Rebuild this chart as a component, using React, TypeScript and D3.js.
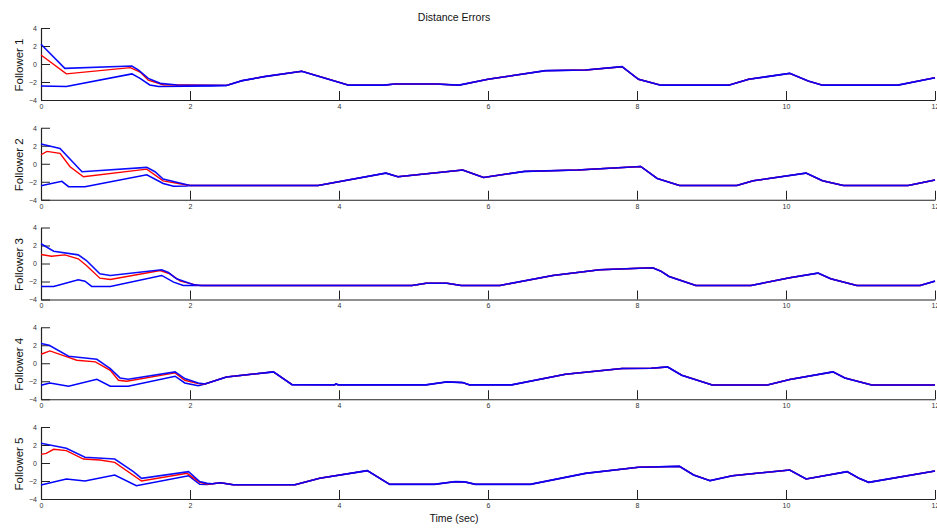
import * as d3 from 'd3';
import React, { useEffect, useRef } from 'react';

type Pt = [number, number];

// tick values and labels
const xTicks = [0, 2, 4, 6, 8, 10, 12];
const yTicks = [-4, -2, 0, 2, 4];
const followerLabels = ['Follower 1', 'Follower 2', 'Follower 3', 'Follower 4', 'Follower 5'];

// Follower 1 - initial transient (upper bound, error, lower bound) + shared tail
const f1Upper: Pt[] = [[0, 2.2], [0.32, -0.48], [1.22, -0.22], [1.31, -0.67], [1.44, -1.6], [1.6, -2.15], [1.83, -2.33]];
const f1Mid: Pt[] = [[0, 1.0], [0.34, -1.1], [1.2, -0.4], [1.33, -0.9], [1.44, -1.8], [1.64, -2.3]];
const f1Lower: Pt[] = [[0, -2.44], [0.34, -2.5], [1.22, -1.1], [1.33, -1.6], [1.46, -2.33], [1.58, -2.5], [2.3, -2.45]];
const f1Tail: Pt[] = [[2.49, -2.38], [2.7, -1.85], [3.0, -1.4], [3.5, -0.8], [4.13, -2.35], [4.6, -2.35], [4.75, -2.22], [5.3, -2.22], [5.61, -2.35], [6.0, -1.7], [6.77, -0.74], [7.31, -0.67], [7.8, -0.3], [8.02, -1.7], [8.32, -2.35], [9.23, -2.35], [9.5, -1.7], [10.05, -1.04], [10.3, -1.9], [10.49, -2.35], [11.5, -2.35], [12, -1.52]];

// Follower 2
const f2Upper: Pt[] = [[0, 2.19], [0.255, 1.7], [0.55, -0.89], [1.42, -0.4], [1.53, -0.89], [1.64, -1.7], [1.96, -2.33]];
const f2Mid: Pt[] = [[0, 1.0], [0.08, 1.37], [0.255, 1.15], [0.39, -0.33], [0.57, -1.44], [1.42, -0.6], [1.64, -1.9], [1.96, -2.36]];
const f2Lower: Pt[] = [[0, -2.44], [0.28, -1.96], [0.37, -2.55], [0.59, -2.55], [1.42, -1.22], [1.64, -2.19], [1.78, -2.5], [1.95, -2.48]];
const f2Tail: Pt[] = [[2.0, -2.42], [3.72, -2.42], [4.63, -1.04], [4.79, -1.44], [5.66, -0.7], [5.94, -1.52], [6.49, -0.85], [7.2, -0.7], [8.05, -0.3], [8.27, -1.63], [8.57, -2.42], [9.34, -2.42], [9.56, -1.89], [10.27, -1.04], [10.49, -1.89], [10.77, -2.42], [11.64, -2.42], [12, -1.81]];

// Follower 3
const f3Upper: Pt[] = [[0, 2.19], [0.17, 1.37], [0.5, 0.96], [0.61, 0.33], [0.79, -1.15], [0.93, -1.33], [1.62, -0.7], [1.71, -1.0], [1.82, -1.7], [2.04, -2.33]];
const f3Mid: Pt[] = [[0, 1.0], [0.14, 0.81], [0.32, 0.96], [0.5, 0.52], [0.61, -0.22], [0.79, -1.63], [0.93, -1.78], [1.6, -0.78], [1.73, -1.15], [1.87, -1.96], [2.09, -2.4]];
const f3Lower: Pt[] = [[0, -2.55], [0.17, -2.55], [0.5, -1.81], [0.59, -1.96], [0.68, -2.55], [0.93, -2.55], [1.62, -1.33], [1.78, -2.07], [1.91, -2.44]];
const f3Tail: Pt[] = [[2.15, -2.44], [4.98, -2.44], [5.17, -2.19], [5.45, -2.19], [5.64, -2.44], [6.16, -2.44], [6.87, -1.33], [7.5, -0.7], [8.21, -0.48], [8.32, -0.85], [8.43, -1.44], [8.79, -2.44], [9.53, -2.44], [10.05, -1.59], [10.43, -1.07], [10.6, -1.7], [10.95, -2.44], [11.8, -2.44], [12, -1.96]];

// Follower 4
const f4Upper: Pt[] = [[0, 2.19], [0.11, 2.0], [0.37, 0.78], [0.75, 0.44], [0.93, -0.59], [1.06, -1.63], [1.17, -1.78], [1.8, -0.96], [1.93, -1.7], [2.11, -2.19]];
const f4Mid: Pt[] = [[0, 1.0], [0.12, 1.37], [0.35, 0.7], [0.48, 0.33], [0.73, 0.15], [0.93, -0.78], [1.04, -1.89], [1.15, -2.0], [1.8, -1.07], [1.93, -1.89], [2.11, -2.26]];
const f4Lower: Pt[] = [[0, -2.44], [0.12, -2.19], [0.37, -2.55], [0.75, -1.78], [0.93, -2.55], [1.17, -2.55], [1.8, -1.44], [1.93, -2.19], [2.11, -2.5]];
const f4Tail: Pt[] = [[2.2, -2.3], [2.49, -1.52], [3.12, -0.96], [3.37, -2.38], [3.94, -2.4], [3.96, -2.3], [3.99, -2.4], [5.17, -2.4], [5.45, -2.07], [5.66, -2.15], [5.75, -2.4], [6.32, -2.4], [7.04, -1.22], [7.8, -0.59], [8.19, -0.55], [8.41, -0.41], [8.6, -1.33], [9.01, -2.41], [9.75, -2.41], [10.05, -1.81], [10.63, -0.96], [10.79, -1.63], [11.15, -2.41], [12, -2.41]];

// Follower 5
const f5Upper: Pt[] = [[0, 2.19], [0.34, 1.63], [0.59, 0.63], [0.99, 0.44], [1.24, -0.96], [1.35, -1.7], [1.98, -0.96], [2.13, -2.07], [2.23, -2.26]];
const f5Mid: Pt[] = [[0, 0.96], [0.07, 1.07], [0.17, 1.52], [0.34, 1.37], [0.57, 0.44], [0.79, 0.33], [0.99, 0.07], [1.35, -2.0], [1.96, -1.15], [2.13, -2.15], [2.23, -2.33]];
const f5Lower: Pt[] = [[0, -2.44], [0.34, -1.78], [0.59, -2.0], [0.99, -1.33], [1.28, -2.52], [1.98, -1.41], [2.13, -2.37], [2.23, -2.4]];
const f5Tail: Pt[] = [[2.3, -2.3], [2.41, -2.2], [2.58, -2.42], [3.41, -2.42], [3.74, -1.7], [4.38, -0.85], [4.68, -2.37], [5.28, -2.37], [5.56, -2.07], [5.69, -2.1], [5.83, -2.37], [6.57, -2.37], [7.31, -1.15], [8.02, -0.48], [8.57, -0.37], [8.76, -1.33], [8.98, -1.96], [9.28, -1.41], [10.05, -0.78], [10.27, -1.78], [10.82, -0.96], [10.98, -1.7], [11.11, -2.15], [12, -0.89]];

const followers = [
    { upper: f1Upper, mid: f1Mid, lower: f1Lower, tail: f1Tail },
    { upper: f2Upper, mid: f2Mid, lower: f2Lower, tail: f2Tail },
    { upper: f3Upper, mid: f3Mid, lower: f3Lower, tail: f3Tail },
    { upper: f4Upper, mid: f4Mid, lower: f4Lower, tail: f4Tail },
    { upper: f5Upper, mid: f5Mid, lower: f5Lower, tail: f5Tail },
];

function App() {
    const ref = useRef<SVGSVGElement>(null);

    useEffect(() => {
        document.body.style.margin = '0';
        const width = 937;
        const height = 528;
        const left = 41;
        const right = 935;
        const firstTop = 28;
        const step = 99.75;
        const panelH = 72;
        const font = '"Liberation Sans", Arial, Helvetica, sans-serif';

        const svg = d3.select(ref.current)
            .attr('width', width)
            .attr('height', height)
            .style('display', 'block')
            .style('background', 'white');
        svg.selectAll('*').remove();

        const x = d3.scaleLinear().domain([0, 12]).range([left, right]);

        followers.forEach((f, i) => {
            const top = firstTop + i * step;
            const y = d3.scaleLinear().domain([-4, 4]).range([top + panelH, top]);
            const line = d3.line<Pt>().x((d) => x(d[0])).y((d) => y(d[1]));

            const g = svg.append('g');

            // x axis (ticks pointing inward)
            const xa = g.append('g')
                .attr('transform', `translate(0,${top + panelH})`)
                .call(d3.axisBottom(x).tickValues(xTicks).tickSizeInner(-9).tickSizeOuter(0).tickPadding(4));
            // y axis
            const ya = g.append('g')
                .attr('transform', `translate(${left},0)`)
                .call(d3.axisLeft(y).tickValues(yTicks).tickSizeInner(-9).tickSizeOuter(0).tickPadding(4));

            [xa, ya].forEach((a) => {
                a.selectAll('path').attr('stroke', '#222').attr('stroke-width', 1.2);
                a.selectAll('line').attr('stroke', '#222').attr('stroke-width', 1);
                a.selectAll('text').attr('fill', '#333').style('font-size', '7px').style('font-family', font);
            });

            const lowerPts = f.lower.concat(f.tail);
            const midPts = f.mid.concat(f.tail);
            const upperPts = f.upper.concat(f.tail);

            g.append('path').datum(lowerPts).attr('fill', 'none').attr('stroke', '#0000ff')
                .attr('stroke-width', 1.5).attr('d', line);
            g.append('path').datum(midPts).attr('fill', 'none').attr('stroke', '#ff0000')
                .attr('stroke-width', 1.4).attr('d', line);
            g.append('path').datum(upperPts).attr('fill', 'none').attr('stroke', '#0000ff')
                .attr('stroke-opacity', 0.95).attr('stroke-width', 1.6).attr('d', line);

            // follower label
            g.append('text')
                .attr('transform', `translate(19,${top + panelH / 2 + 1}) rotate(-90)`)
                .attr('text-anchor', 'middle')
                .attr('dominant-baseline', 'central')
                .style('font-family', font)
                .style('font-size', '11.5px')
                .attr('fill', '#111')
                .text(followerLabels[i]);
        });

        svg.append('text')
            .attr('x', 454).attr('y', 21)
            .attr('text-anchor', 'middle')
            .style('font-family', font)
            .style('font-size', '10.5px')
            .attr('fill', '#111')
            .text('Distance Errors');

        svg.append('text')
            .attr('x', 454).attr('y', 522)
            .attr('text-anchor', 'middle')
            .style('font-family', font)
            .style('font-size', '10.5px')
            .attr('fill', '#111')
            .text('Time (sec)');
    }, []);

    return <svg ref={ref} />;
}

export default App;
